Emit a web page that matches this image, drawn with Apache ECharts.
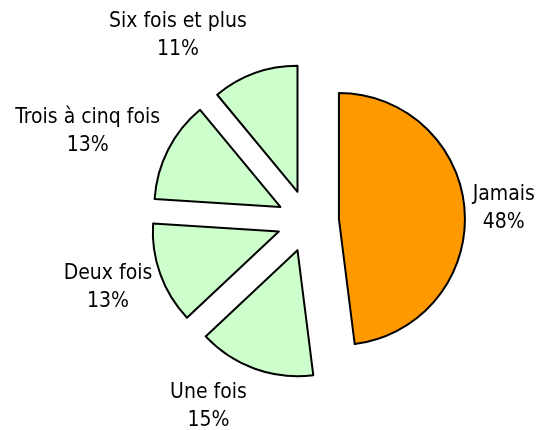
<!DOCTYPE html>
<html>
<head>
<meta charset="utf-8">
<script src="https://cdn.jsdelivr.net/npm/echarts@6/dist/echarts.min.js"></script>
<style>
    html, body { margin: 0; padding: 0; background: #fff; }
    #main { width: 536px; height: 430px; }
</style>
</head>
<body>
<div id="main"></div>
<script>
// réponses
var categories = ['Jamais', 'Une fois', 'Deux fois', 'Trois à cinq fois', 'Six fois et plus'];
var values = [48, 15, 13, 13, 11];
var colors = ['#FF9900', '#CCFFCC', '#CCFFCC', '#CCFFCC', '#CCFFCC'];

var fontFamily = '"DejaVu Sans Condensed", "Liberation Sans", sans-serif';
var pieCenter = [308, 221];
var pieRadius = 126;
var explode = 31;

var total = 0;
for (var k = 0; k < values.length; k++) {
    total += values[k];
}

var pieData = [];
var labelData = [];
for (var i = 0; i < categories.length; i++) {
    pieData.push({
        name: categories[i],
        value: values[i],
        selected: true,
        itemStyle: { color: colors[i] }
    });
    labelData.push({
        name: categories[i],
        value: values[i]
    });
}

// direction du milieu de la part (sens horaire depuis midi)
function midDir(index) {
    var before = 0;
    for (var j = 0; j < index; j++) {
        before += values[j];
    }
    var a = (before + values[index] / 2) / total * Math.PI * 2;
    return [Math.sin(a), -Math.cos(a)];
}

var chart = echarts.init(document.getElementById('main'));
var option = {
    animation: false,
    backgroundColor: '#fff',
    series: [
        {
            // parts éclatées
            type: 'pie',
            center: pieCenter,
            radius: [0, pieRadius],
            startAngle: 90,
            clockwise: true,
            selectedMode: 'multiple',
            selectedOffset: explode,
            silent: true,
            itemStyle: {
                borderColor: '#000',
                borderWidth: 2
            },
            label: { show: false },
            labelLine: { show: false },
            data: pieData
        },
        {
            // étiquettes seules (secteurs invisibles)
            type: 'pie',
            center: pieCenter,
            radius: [0, pieRadius],
            startAngle: 90,
            clockwise: true,
            selectedMode: false,
            silent: true,
            z: 3,
            itemStyle: {
                color: 'rgba(0,0,0,0)',
                borderWidth: 0
            },
            label: {
                show: true,
                position: 'outside',
                formatter: '{b}\n{c}%',
                color: '#000',
                fontFamily: fontFamily,
                fontSize: 21,
                lineHeight: 28,
                overflow: 'none'
            },
            labelLine: { show: false },
            // à la manière d'Excel : bord du texte à 8px du secteur
            labelLayout: function (params) {
                var d = midDir(params.dataIndex);
                var rr = pieRadius + explode;
                var px = pieCenter[0] + rr * d[0];
                var py = pieCenter[1] + rr * d[1];
                var w = params.labelRect.width;
                return {
                    x: d[0] >= 0 ? px + 8 + w / 2 : px - 8 - w / 2,
                    y: py + 40 * d[1],
                    align: 'center',
                    verticalAlign: 'middle'
                };
            },
            data: labelData
        }
    ]
};
chart.setOption(option);
</script>
</body>
</html>
